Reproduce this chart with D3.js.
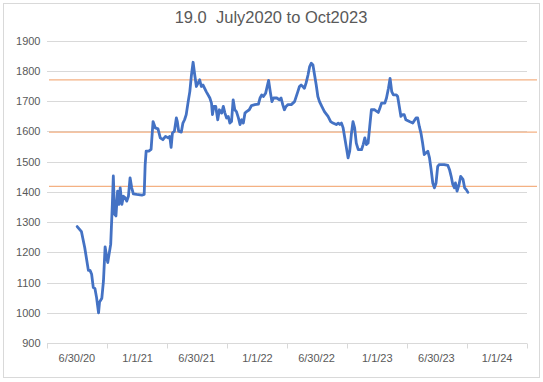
<!DOCTYPE html>
<html><head><meta charset="utf-8">
<script src="https://cdn.jsdelivr.net/npm/d3@7"></script>
<style>html,body{margin:0;padding:0;background:#fff;}</style>
</head><body>
<svg id="c" width="543" height="382"></svg>
<script>
const titleText = "19.0  July2020 to Oct2023";
const dates = ["2020-07-01","2020-07-14","2020-07-24","2020-08-04","2020-08-09","2020-08-14","2020-08-19","2020-08-24","2020-08-29","2020-09-04","2020-09-07","2020-09-14","2020-09-19","2020-09-24","2020-09-29","2020-10-02","2020-10-06","2020-10-11","2020-10-16","2020-10-19","2020-10-23","2020-10-27","2020-11-01","2020-11-05","2020-11-09","2020-11-14","2020-11-19","2020-11-24","2020-11-29","2020-12-04","2020-12-09","2020-12-14","2020-12-19","2020-12-29","2021-01-14","2021-01-21","2021-01-24","2021-01-27","2021-02-04","2021-02-11","2021-02-17","2021-02-24","2021-03-04","2021-03-11","2021-03-19","2021-03-27","2021-04-04","2021-04-09","2021-04-13","2021-04-17","2021-04-23","2021-04-29","2021-05-02","2021-05-06","2021-05-14","2021-05-19","2021-05-24","2021-05-29","2021-06-04","2021-06-09","2021-06-14","2021-06-19","2021-06-24","2021-06-29","2021-07-04","2021-07-09","2021-07-14","2021-07-19","2021-07-29","2021-08-09","2021-08-14","2021-08-17","2021-08-21","2021-08-27","2021-09-02","2021-09-07","2021-09-14","2021-09-19","2021-09-24","2021-09-29","2021-10-04","2021-10-09","2021-10-14","2021-10-19","2021-10-24","2021-10-29","2021-11-04","2021-11-09","2021-11-14","2021-11-19","2021-11-24","2021-11-29","2021-12-07","2021-12-14","2021-12-24","2022-01-04","2022-01-09","2022-01-14","2022-01-19","2022-01-26","2022-02-04","2022-02-09","2022-02-14","2022-02-19","2022-03-01","2022-03-09","2022-03-14","2022-03-19","2022-03-24","2022-03-29","2022-04-04","2022-04-14","2022-04-24","2022-05-04","2022-05-09","2022-05-14","2022-05-19","2022-05-24","2022-05-29","2022-06-04","2022-06-09","2022-06-14","2022-06-19","2022-06-24","2022-06-29","2022-07-04","2022-07-09","2022-07-16","2022-07-24","2022-08-04","2022-08-12","2022-08-19","2022-08-29","2022-09-04","2022-09-09","2022-09-14","2022-09-19","2022-09-24","2022-09-29","2022-10-04","2022-10-09","2022-10-14","2022-10-19","2022-10-24","2022-10-29","2022-11-04","2022-11-14","2022-11-19","2022-11-24","2022-11-29","2022-12-04","2022-12-09","2022-12-14","2022-12-24","2023-01-04","2023-01-09","2023-01-14","2023-01-24","2023-01-29","2023-02-04","2023-02-09","2023-02-14","2023-02-19","2023-02-28","2023-03-04","2023-03-09","2023-03-14","2023-03-19","2023-03-24","2023-03-29","2023-04-09","2023-04-19","2023-04-29","2023-05-04","2023-05-09","2023-05-14","2023-05-19","2023-05-24","2023-05-29","2023-06-04","2023-06-09","2023-06-14","2023-06-19","2023-06-24","2023-06-29","2023-07-04","2023-07-09","2023-07-24","2023-08-04","2023-08-09","2023-08-14","2023-08-19","2023-08-24","2023-08-27","2023-09-01","2023-09-07","2023-09-12","2023-09-19","2023-09-24","2023-09-29","2023-10-04"];
const values = [1285,1268,1215,1140,1140,1127,1083,1080,1050,1000,1035,1048,1105,1218,1182,1166,1193,1226,1358,1452,1325,1320,1402,1358,1413,1358,1385,1380,1369,1385,1446,1413,1393,1391,1389,1391,1490,1534,1534,1540,1632,1611,1608,1578,1572,1583,1578,1583,1547,1594,1600,1644,1632,1600,1597,1627,1638,1655,1698,1731,1786,1828,1786,1748,1759,1770,1748,1753,1731,1710,1693,1655,1682,1682,1638,1671,1660,1682,1660,1644,1649,1627,1632,1704,1671,1665,1644,1622,1638,1627,1660,1665,1671,1685,1688,1690,1710,1720,1715,1726,1768,1731,1698,1710,1710,1704,1710,1688,1671,1682,1688,1688,1698,1731,1748,1753,1748,1742,1759,1786,1814,1825,1819,1786,1753,1715,1698,1682,1665,1649,1632,1627,1622,1627,1622,1627,1611,1578,1545,1512,1534,1590,1632,1611,1561,1539,1539,1556,1578,1556,1561,1616,1671,1671,1662,1677,1693,1693,1710,1742,1775,1731,1720,1720,1715,1682,1649,1655,1655,1638,1632,1627,1644,1644,1616,1594,1561,1523,1528,1534,1512,1473,1429,1413,1429,1484,1490,1490,1487,1473,1451,1424,1413,1429,1402,1424,1451,1441,1413,1407,1398];
const refLevels = [1770, 1597, 1418];
const yTicks = [900,1000,1100,1200,1300,1400,1500,1600,1700,1800,1900];
const xTickLabels = ["6/30/20","1/1/21","6/30/21","1/1/22","6/30/22","1/1/23","6/30/23","1/1/24"];
const xLabelDates = ["2020-06-30","2021-01-01","2021-06-30","2022-01-01","2022-06-30","2023-01-01","2023-06-30","2024-01-01"];

const parse = d3.timeParse("%Y-%m-%d");
const data = dates.map((d,i)=>({date:parse(d), value:values[i]}));

const svg = d3.select("#c");
const font = "'Liberation Sans', Arial, sans-serif";
const textColor = "#595959";

// chart border
svg.append("rect").attr("x",3.5).attr("y",3.5).attr("width",536).attr("height",374)
  .attr("fill","#fff").attr("stroke","#D9D9D9").attr("stroke-width",1);

const x = d3.scaleTime().domain([parse("2020-03-31"), parse("2024-04-01")]).range([47,527]);
const y = d3.scaleLinear().domain([900,1900]).range([343,40.5]);

// gridlines
svg.append("g").selectAll("line").data(yTicks.slice(1)).join("line")
  .attr("x1",47).attr("x2",527)
  .attr("y1",d=>Math.round(y(d))+0.5).attr("y2",d=>Math.round(y(d))+0.5)
  .attr("stroke","#D9D9D9").attr("stroke-width",1);

// y labels
svg.append("g").selectAll("text").data(yTicks).join("text")
  .attr("x",40.5).attr("y",d=>y(d)+4)
  .attr("text-anchor","end").attr("font-family",font).attr("font-size","11px")
  .attr("fill",textColor).text(d=>d);

// x axis line and ticks
const xAxisY = Math.round(y(900))+0.5;
svg.append("line").attr("x1",47).attr("x2",527).attr("y1",xAxisY).attr("y2",xAxisY)
  .attr("stroke","#D9D9D9").attr("stroke-width",1);
const tickDates = [parse("2020-03-31")].concat(xLabelDates.map((d,i)=>{
  const a = parse(d), b = i<xLabelDates.length-1 ? parse(xLabelDates[i+1]) : parse("2024-06-30");
  return new Date((+a + +b)/2);
}));
svg.append("g").selectAll("line").data(tickDates).join("line")
  .attr("x1",d=>Math.round(x(d))+0.5).attr("x2",d=>Math.round(x(d))+0.5)
  .attr("y1",xAxisY).attr("y2",xAxisY+5)
  .attr("stroke","#D9D9D9").attr("stroke-width",1);
svg.append("g").selectAll("text").data(xTickLabels).join("text")
  .attr("x",(d,i)=>x(parse(xLabelDates[i])))
  .attr("y",362)
  .attr("text-anchor","middle").attr("font-family",font).attr("font-size","11px")
  .attr("fill",textColor).text(d=>d);

// reference lines
svg.append("g").selectAll("line").data(refLevels).join("line")
  .attr("x1",49).attr("x2",537)
  .attr("y1",d=>y(d)).attr("y2",d=>y(d))
  .attr("stroke","#F4B183").attr("stroke-width",1.3);

// data line
svg.append("path").datum(data)
  .attr("d", d3.line().x(d=>x(d.date)).y(d=>y(d.value)))
  .attr("fill","none").attr("stroke","#4472C4").attr("stroke-width",2.8)
  .attr("stroke-linejoin","round").attr("stroke-linecap","round");

// title
svg.append("text").attr("x",271).attr("y",23)
  .attr("text-anchor","middle").attr("font-family",font).attr("font-size","16.5px")
  .style("white-space","pre")
  .attr("fill",textColor).text(titleText);
</script>
</body></html>
